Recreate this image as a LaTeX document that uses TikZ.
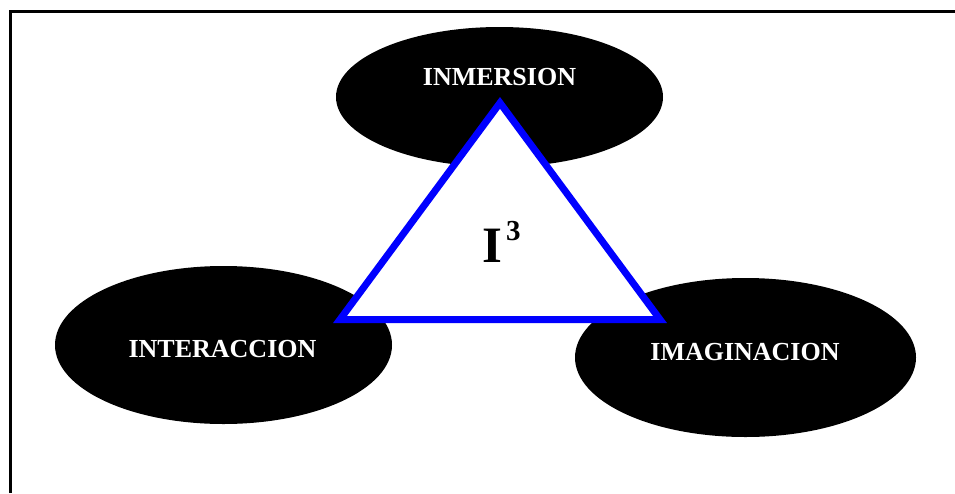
\documentclass[tikz,border=0pt]{standalone}
\usepackage{fontspec}
\setmainfont{Liberation Serif}
\begin{document}
\begin{tikzpicture}[x=1pt,y=-1pt,
  blob/.style={ellipse, fill=black, draw=none, inner sep=0pt},
  blobtext/.style={text=white, font=\fontsize{26}{30}\selectfont\bfseries, inner sep=0pt},
  tri/.style={draw=blue, fill=white, line width=7pt, line join=miter},
  frameline/.style={draw=black, line width=3pt}]
\useasboundingbox (0,0) rectangle (955,493);
\fill[white] (0,0) rectangle (955,493);
\draw[frameline] (10.5,493) -- (10.5,11) -- (955,11);
% ellipses
\fill (499.5,97) ellipse [x radius=163.5, y radius=70];
\fill (223.5,345) ellipse [x radius=168.5, y radius=79];
\fill (745.5,357.5) ellipse [x radius=170.5, y radius=79.5];
% triangle
\coordinate (apex) at (500,102.9);
\coordinate (bl) at (340,319.5);
\coordinate (br) at (660,319.5);
\draw[tri] (apex) -- (bl) -- (br) -- cycle;
% labels
\node[blobtext] (inm) at (499.5,77) {INMERSION};
\node[blobtext] (int) at (222.5,349.5) {INTERACCION};
\node[blobtext] (ima) at (745,352) {IMAGINACION};
\node[inner sep=0pt, anchor=base west, font=\fontsize{51}{55}\selectfont\bfseries] (ithree) at (482,262) {I\kern4pt\raisebox{22pt}{\fontsize{29}{31}\selectfont 3}};
\end{tikzpicture}
\end{document}
